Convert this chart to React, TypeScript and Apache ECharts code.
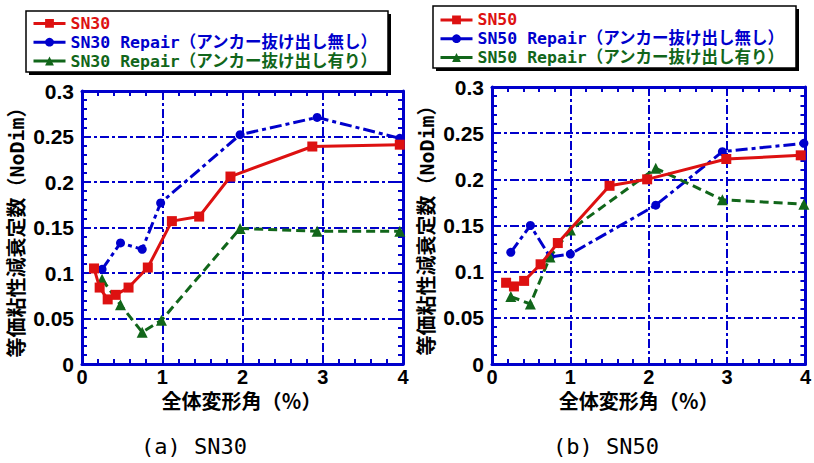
import React, { useEffect, useRef } from "react";
import * as echarts from "echarts";

// ---- data ----
const sn30X = [0.15, 0.22, 0.32, 0.42, 0.58, 0.82, 1.12, 1.46, 1.85, 2.87, 3.96];
const sn30Y = [0.105, 0.084, 0.071, 0.076, 0.084, 0.106, 0.157, 0.162, 0.206, 0.239, 0.241];
const sn30NoX = [0.25, 0.48, 0.75, 0.98, 1.97, 2.93, 3.96];
const sn30NoY = [0.104, 0.133, 0.126, 0.177, 0.252, 0.271, 0.248];
const sn30YesX = [0.25, 0.48, 0.75, 0.99, 1.97, 2.93, 3.96];
const sn30YesY = [0.093, 0.065, 0.035, 0.048, 0.149, 0.146, 0.146];

const sn50X = [0.18, 0.28, 0.41, 0.62, 0.84, 1.5, 1.98, 2.99, 3.94];
const sn50Y = [0.088, 0.084, 0.09, 0.108, 0.131, 0.193, 0.2, 0.222, 0.226];
const sn50NoX = [0.24, 0.49, 0.74, 1.0, 2.09, 2.94, 3.98];
const sn50NoY = [0.121, 0.15, 0.116, 0.119, 0.172, 0.23, 0.239];
const sn50YesX = [0.24, 0.49, 0.74, 1.0, 2.09, 2.94, 3.98];
const sn50YesY = [0.073, 0.065, 0.116, 0.145, 0.212, 0.178, 0.173];

const seriesNames30 = ["SN30", "SN30 Repair（アンカー抜け出し無し）", "SN30 Repair（アンカー抜け出し有り）"];
const seriesNames50 = ["SN50", "SN50 Repair（アンカー抜け出し無し）", "SN50 Repair（アンカー抜け出し有り）"];
const captions = ["(a) SN30", "(b) SN50"];
const xAxisTitle = "全体変形角（％）";
const yAxisTitle = "等価粘性減衰定数（NoDim）";

const RED = "#DD1111";
const BLUE = "#0000CC";
const GREEN = "#11661A";
const AXIS = "#0000CC";
const MONO = "'DejaVu Sans Mono', 'Noto Sans CJK JP', monospace";
const SANS = "'Liberation Sans', Arial, sans-serif";

const zip = (xs: number[], ys: number[]) => xs.map((x, i) => [x, ys[i]]);

function axesFor(gi: number) {
  const tick = { show: true, inside: true, length: 6, lineStyle: { color: AXIS, width: 2 } };
  const axisLine = { show: true, onZero: false, lineStyle: { color: AXIS, width: 3 } };
  const xMinor = { show: true, splitNumber: 5, length: 5, lineStyle: { color: AXIS, width: 2 } };
  const yMinor = { show: true, splitNumber: 5, length: 5, lineStyle: { color: AXIS, width: 2 } };
  const xMain = {
    type: "value", gridIndex: gi, min: 0, max: 4, interval: 1, position: "bottom",
    axisLine, axisTick: tick, minorTick: xMinor,
    splitLine: { show: true, lineStyle: { color: AXIS, width: 2, type: [9, 3, 3, 3] } },
    axisLabel: { color: "#000", fontFamily: SANS, fontWeight: "bold", fontSize: 20, margin: 3 },
    name: xAxisTitle, nameLocation: "middle", nameGap: 27,
    nameTextStyle: {
      color: "#000", fontFamily: MONO, fontWeight: "bold", fontSize: 20,
      padding: gi === 1 ? [0, 20, 0, 0] : [0, 2, 0, 0],
    },
  };
  const xTop = {
    type: "value", gridIndex: gi, min: 0, max: 4, interval: 1, position: "top",
    axisLine, axisTick: tick, minorTick: xMinor, splitLine: { show: false }, axisLabel: { show: false },
  };
  const yMain = {
    type: "value", gridIndex: gi, min: 0, max: 0.3, interval: 0.05, position: "left",
    axisLine, axisTick: tick, minorTick: yMinor,
    splitLine: { show: true, lineStyle: { color: AXIS, width: 2, type: [9, 3, 3, 3] } },
    axisLabel: { color: "#000", fontFamily: SANS, fontWeight: "bold", fontSize: 21, margin: 8 },
    name: yAxisTitle, nameLocation: "middle", nameGap: 55,
    nameTextStyle: { color: "#000", fontFamily: MONO, fontWeight: "bold", fontSize: 20 },
  };
  const yRight = {
    type: "value", gridIndex: gi, min: 0, max: 0.3, interval: 0.05, position: "right",
    axisLine, axisTick: tick, minorTick: yMinor, splitLine: { show: false }, axisLabel: { show: false },
  };
  return { xs: [xMain, xTop], ys: [yMain, yRight] };
}

function seriesFor(gi: number, names: string[], data: number[][][]) {
  const styles = [
    { color: RED, symbol: "rect", size: 10, type: "solid" as any },
    { color: BLUE, symbol: "circle", size: 9, type: [12, 4, 4, 4] },
    { color: GREEN, symbol: "triangle", size: 11, type: [9, 5] },
  ];
  return names.map((name, i) => ({
    type: "line", name, xAxisIndex: gi * 2, yAxisIndex: gi * 2,
    data: data[i], symbol: styles[i].symbol, symbolSize: styles[i].size,
    lineStyle: { color: styles[i].color, width: 3, type: styles[i].type },
    itemStyle: { color: styles[i].color },
    z: i === 0 ? 4 : 3,
  }));
}

function legendFor(names: string[], left: number, top: number) {
  const colors = [RED, BLUE, GREEN];
  return {
    orient: "vertical", left, top, padding: 0, itemGap: 0,
    itemWidth: 32, itemHeight: 11, z: 10,
    selectedMode: false,
    lineStyle: { type: "solid", width: 3 },
    textStyle: { fontFamily: MONO, fontWeight: "bold", fontSize: 16.5, lineHeight: 18.8 },
    data: names.map((n, i) => ({ name: n, textStyle: { color: colors[i] } })),
  };
}

function legendBox(x: number, y: number, w: number, h: number) {
  return [
    { type: "rect", z: 1, shape: { x: x + 3, y: y + 3, width: w, height: h }, style: { fill: "#000" } },
    { type: "rect", z: 2, shape: { x, y, width: w, height: h }, style: { fill: "#fff", stroke: "#000", lineWidth: 1.5 } },
  ];
}

function caption(text: string, x: number, y: number) {
  return {
    type: "text", z: 5, x, y,
    style: {
      text, fill: "#000", fontFamily: MONO, fontSize: 22, fontWeight: "normal",
      align: "center", verticalAlign: "middle", textAlign: "center", textVerticalAlign: "middle",
    },
  };
}

export default function App() {
  const ref = useRef<HTMLDivElement>(null);
  useEffect(() => {
    if (!ref.current) return;
    const chart = echarts.init(ref.current, undefined, { renderer: "svg" });
    const a0 = axesFor(0);
    const a1 = axesFor(1);
    chart.setOption({
      animation: false,
      backgroundColor: "#fff",
      grid: [
        { left: 82, top: 91, width: 321, height: 273 },
        { left: 492, top: 87, width: 321, height: 277 },
      ],
      xAxis: [...a0.xs, ...a1.xs],
      yAxis: [...a0.ys, ...a1.ys],
      legend: [legendFor(seriesNames30, 32, 14), legendFor(seriesNames50, 439, 10.5)],
      series: [
        ...seriesFor(0, seriesNames30, [zip(sn30X, sn30Y), zip(sn30NoX, sn30NoY), zip(sn30YesX, sn30YesY)]),
        ...seriesFor(1, seriesNames50, [zip(sn50X, sn50Y), zip(sn50NoX, sn50NoY), zip(sn50YesX, sn50YesY)]),
      ],
      graphic: [
        ...legendBox(26, 11, 362, 61),
        ...legendBox(433, 6, 363, 62),
        caption(captions[0], 194, 446),
        caption(captions[1], 606, 446),
      ],
    });
    return () => chart.dispose();
  }, []);
  return (
    <div
      ref={ref}
      style={{ position: "fixed", left: 0, top: 0, width: 814, height: 463, background: "#fff" }}
    />
  );
}
